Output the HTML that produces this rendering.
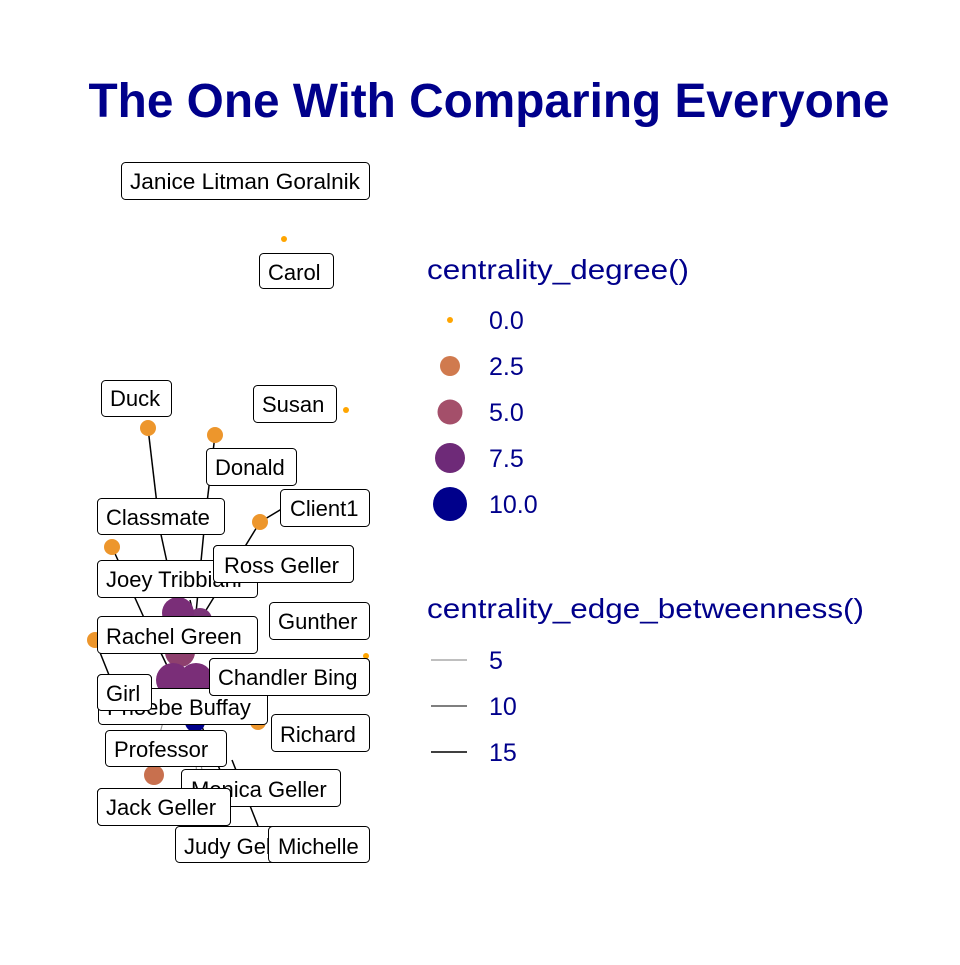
<!DOCTYPE html>
<html><head><style>
body{margin:0;background:#fff;}
svg text{font-family:"Liberation Sans",sans-serif;}
</style></head><body>
<svg width="960" height="960" xmlns="http://www.w3.org/2000/svg">
<rect width="960" height="960" fill="#fff"/>
<text x="489" y="117" text-anchor="middle" font-size="48" font-weight="bold" fill="#00008B" textLength="801" lengthAdjust="spacingAndGlyphs">The One With Comparing Everyone</text>
<g stroke="#000" stroke-width="1.5" fill="none">
<line x1="148" y1="428" x2="160" y2="530"/><line x1="160" y1="530" x2="178" y2="613"/>
<line x1="215" y1="435" x2="205" y2="520"/><line x1="205" y1="520" x2="196" y2="613"/>
<line x1="260" y1="522" x2="285" y2="507"/><line x1="260" y1="522" x2="200" y2="620"/>
<line x1="112" y1="547" x2="145" y2="620"/><line x1="145" y1="620" x2="173" y2="678"/>
<line x1="95" y1="640" x2="115" y2="690"/>
<line x1="190" y1="600" x2="200" y2="640"/>
<line x1="232" y1="760" x2="258" y2="826"/>
<line x1="220" y1="770" x2="200" y2="722"/>
</g>
<g stroke="#999" stroke-width="1.2">
<line x1="163" y1="722" x2="150" y2="770"/><line x1="195" y1="722" x2="198" y2="826"/><line x1="195" y1="722" x2="210" y2="826"/>
</g>
<circle cx="284" cy="239" r="3" fill="#FFA500"/>
<circle cx="346" cy="410" r="3" fill="#FFA500"/>
<circle cx="366" cy="656" r="3" fill="#FFA500"/>
<g fill="#ED962C">
<circle cx="148" cy="428" r="8"/><circle cx="215" cy="435" r="8"/><circle cx="260" cy="522" r="8"/><circle cx="112" cy="547" r="8"/><circle cx="95" cy="640" r="8"/><circle cx="258" cy="722" r="8"/>
</g>
<circle cx="154" cy="775" r="10" fill="#C8704E"/>
<circle cx="195" cy="722" r="10" fill="#00008B"/>
<circle cx="200" cy="620" r="12" fill="#7A3478"/>
<circle cx="178" cy="613" r="16" fill="#7A2E78"/>
<circle cx="180" cy="652" r="15" fill="#8E406E"/>
<circle cx="173" cy="680" r="17" fill="#7A2E78"/>
<circle cx="196" cy="680" r="17" fill="#7A2E78"/>
<g font-size="22" fill="#000">
<g stroke="#000" stroke-width="1" fill="#fff">
<rect x="121.5" y="162.5" width="248" height="37" rx="4"/>
<rect x="259.5" y="253.5" width="74" height="35" rx="4"/>
<rect x="101.5" y="380.5" width="70" height="36" rx="4"/>
<rect x="253.5" y="385.5" width="83" height="37" rx="4"/>
<rect x="206.5" y="448.5" width="90" height="37" rx="4"/>
<rect x="280.5" y="489.5" width="89" height="37" rx="4"/>
<rect x="97.5" y="498.5" width="127" height="36" rx="4"/>
<rect x="97.5" y="560.5" width="160" height="37" rx="4"/>
<rect x="213.5" y="545.5" width="140" height="37" rx="4"/>
<rect x="269.5" y="602.5" width="100" height="37" rx="4"/>
<rect x="97.5" y="616.5" width="160" height="37" rx="4"/>
<rect x="98.5" y="688.5" width="169" height="36" rx="4"/>
<rect x="209.5" y="658.5" width="160" height="37" rx="4"/>
<rect x="97.5" y="674.5" width="54" height="36" rx="4"/>
<rect x="271.5" y="714.5" width="98" height="37" rx="4"/>
<rect x="105.5" y="730.5" width="121" height="36" rx="4"/>
<rect x="181.5" y="769.5" width="159" height="37" rx="4"/>
<rect x="97.5" y="788.5" width="133" height="37" rx="4"/>
<rect x="175.5" y="826.5" width="120" height="36" rx="4"/>
</g>
<text x="130" y="189" textLength="230" lengthAdjust="spacingAndGlyphs">Janice Litman Goralnik</text>
<text x="268" y="280">Carol</text>
<text x="110" y="406">Duck</text>
<text x="262" y="412">Susan</text>
<text x="215" y="475">Donald</text>
<text x="290" y="516">Client1</text>
<text x="106" y="525">Classmate</text>
<text x="106" y="587">Joey Tribbiani</text>
<rect x="213.5" y="545.5" width="140" height="37" rx="4" fill="#fff" stroke="#000"/>
<text x="224" y="573">Ross Geller</text>
<text x="278" y="629">Gunther</text>
<text x="106" y="644">Rachel Green</text>
<text x="107" y="715">Phoebe Buffay</text>
<rect x="97.5" y="674.5" width="54" height="36" rx="4" fill="#fff" stroke="#000"/>
<text x="106" y="701">Girl</text>
<rect x="209.5" y="658.5" width="160" height="37" rx="4" fill="#fff" stroke="#000"/>
<text x="218" y="685">Chandler Bing</text>
<text x="280" y="742">Richard</text>
<text x="114" y="757">Professor</text>
<text x="191" y="797">Monica Geller</text>
<rect x="97.5" y="788.5" width="133" height="37" rx="4" fill="#fff" stroke="#000"/>
<text x="106" y="815">Jack Geller</text>
<text x="184" y="854">Judy Geller</text>
<rect x="268.5" y="826.5" width="101" height="36" rx="4" fill="#fff" stroke="#000"/>
<text x="278" y="854">Michelle</text>
</g>
<g fill="#00008B" font-size="28">
<text x="427" y="279" textLength="262" lengthAdjust="spacingAndGlyphs">centrality_degree()</text>
<text x="427" y="618" textLength="437" lengthAdjust="spacingAndGlyphs">centrality_edge_betweenness()</text>
</g>
<circle cx="450" cy="320" r="3" fill="#FFA500"/>
<circle cx="450" cy="366" r="10" fill="#D07A4E"/>
<circle cx="450" cy="412" r="12.5" fill="#A44F6A"/>
<circle cx="450" cy="458" r="15" fill="#6E2A78"/>
<circle cx="450" cy="504" r="17" fill="#00008B"/>
<line x1="431" y1="660" x2="467" y2="660" stroke="#aaa" stroke-width="1.5"/>
<line x1="431" y1="706" x2="467" y2="706" stroke="#555" stroke-width="1.5"/>
<line x1="431" y1="752" x2="467" y2="752" stroke="#000" stroke-width="1.5"/>
<g fill="#00008B" font-size="25">
<text x="489" y="329">0.0</text><text x="489" y="375">2.5</text><text x="489" y="421">5.0</text><text x="489" y="467">7.5</text><text x="489" y="513">10.0</text>
<text x="489" y="669">5</text><text x="489" y="715">10</text><text x="489" y="761">15</text>
</g>
</svg>
</body></html>
